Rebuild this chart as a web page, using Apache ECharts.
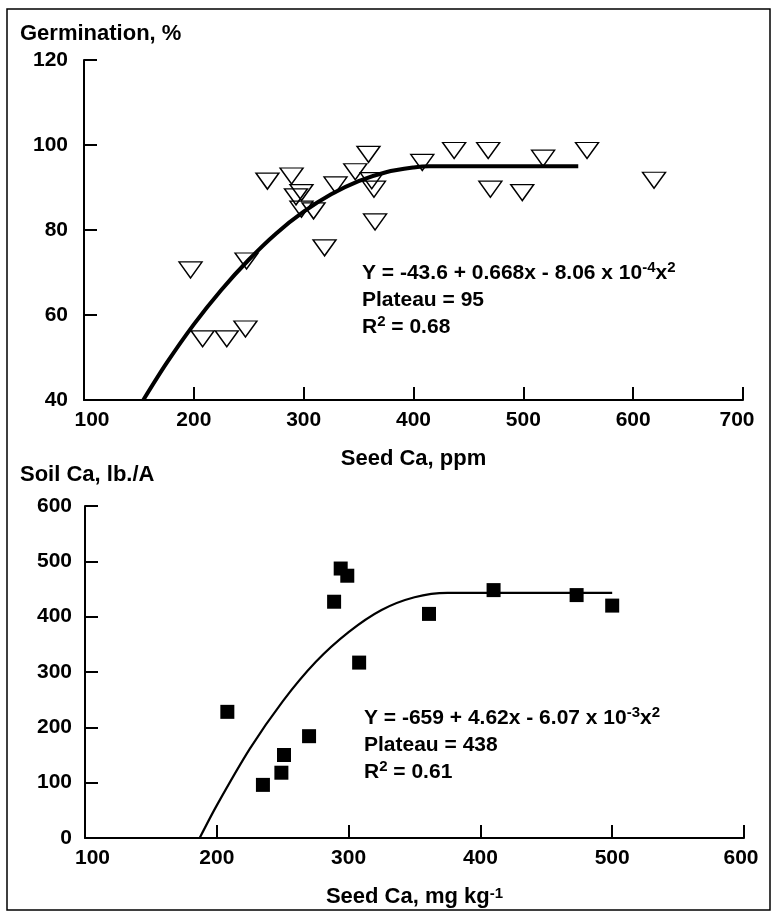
<!DOCTYPE html>
<html>
<head>
<meta charset="utf-8">
<script src="https://cdn.jsdelivr.net/npm/echarts@6/dist/echarts.min.js"></script>
<style>
html,body{margin:0;padding:0;background:#fff;}
#chart{width:772px;height:912px;}
</style>
</head>
<body>
<div id="chart"></div>
<script>
// ---- Top panel: Germination vs Seed Ca (ppm) ----
const germSeedCa = [197, 208, 230, 247, 248, 267, 289, 293, 298, 298, 309, 319, 329, 347, 359, 362, 364, 365, 408, 437, 468, 470, 499, 518, 558, 619];
const germPct    = [70.6, 54.4, 54.4, 56.7, 72.7, 91.5, 92.7, 87.8, 88.8, 84.9, 84.5, 75.8, 90.6, 93.7, 97.8, 91.6, 89.6, 81.9, 95.9, 98.7, 98.7, 89.6, 88.8, 96.9, 98.7, 91.7];
// fitted curve (quadratic-plateau)
const germFitX = [154, 175, 200, 225, 250, 275, 300, 325, 350, 375, 400, 414, 550];
const germFitY = [40, 48.6, 57.8, 65.9, 73.0, 79.2, 84.3, 88.4, 91.5, 93.6, 94.7, 95, 95];
const topXTicks = [100, 700, 100]; // min, max, interval
const topYTicks = [40, 120, 20];

// ---- Bottom panel: Soil Ca vs Seed Ca (mg/kg) ----
const soilSeedCa = [208, 235, 249, 251, 270, 289, 294, 299, 308, 361, 410, 473, 500];
const soilCa     = [228, 96, 118, 150, 184, 427, 487, 474, 317, 405, 448, 439, 420];
const soilFitX = [187, 200, 225, 250, 275, 300, 325, 350, 375, 500];
const soilFitY = [0, 59, 161, 247, 318, 372, 412, 435, 443, 443];
const botXTicks = [100, 600, 100];
const botYTicks = [0, 600, 100];

const FONT = 'Liberation Sans';
const pairs = (xs, ys) => xs.map((x, i) => [x, ys[i]]);

function xLabel(minV, maxV, shiftMin, shiftMax) {
  return {
    color: '#000', fontFamily: FONT, fontWeight: 'bold', fontSize: 21, margin: 10,
    formatter: function (v) {
      if (v === minV) return '{f|' + v + '}';
      if (v === maxV) return '{l|' + v + '}';
      return '' + v;
    },
    rich: {
      f: { fontFamily: FONT, fontWeight: 'bold', fontSize: 21, color: '#000', padding: [0, 0, 0, shiftMin] },
      l: { fontFamily: FONT, fontWeight: 'bold', fontSize: 21, color: '#000', padding: [0, shiftMax, 0, 0] }
    }
  };
}
const axisLineStyle = { show: true, lineStyle: { color: '#000', width: 2 } };
const tickStyle = { show: true, inside: true, length: 13, lineStyle: { color: '#000', width: 2 } };

const chart = echarts.init(document.getElementById('chart'), null, { renderer: 'canvas' });

const supRich = {
  n: { fontFamily: FONT, fontWeight: 'bold', fontSize: 21, lineHeight: 27, color: '#000' },
  s: { fontFamily: FONT, fontWeight: 'bold', fontSize: 15, lineHeight: 18, verticalAlign: 'top', color: '#000' }
};

chart.setOption({
  animation: false,
  backgroundColor: '#fff',
  grid: [
    { left: 84, top: 60, width: 659, height: 340 },
    { left: 85, top: 506, width: 659, height: 332 }
  ],
  xAxis: [
    {
      gridIndex: 0, type: 'value', min: topXTicks[0], max: topXTicks[1], interval: topXTicks[2],
      name: 'Seed Ca, ppm', nameLocation: 'middle', nameGap: 48,
      nameTextStyle: { color: '#000', fontFamily: FONT, fontWeight: 'bold', fontSize: 22 },
      axisLine: axisLineStyle, axisTick: tickStyle, splitLine: { show: false },
      axisLabel: xLabel(100, 700, 16, 12)
    },
    {
      gridIndex: 1, type: 'value', min: botXTicks[0], max: botXTicks[1], interval: botXTicks[2],
      name: 'Seed Ca, mg kg{s|-1}', nameLocation: 'middle', nameGap: 48,
      nameTextStyle: {
        color: '#000', fontFamily: FONT, fontWeight: 'bold', fontSize: 22,
        rich: { s: { fontFamily: FONT, fontWeight: 'bold', fontSize: 15, verticalAlign: 'top', color: '#000', lineHeight: 16 } }
      },
      axisLine: axisLineStyle, axisTick: tickStyle, splitLine: { show: false },
      axisLabel: xLabel(100, 600, 15, 6)
    }
  ],
  yAxis: [
    {
      gridIndex: 0, type: 'value', min: topYTicks[0], max: topYTicks[1], interval: topYTicks[2],
      axisLine: axisLineStyle, axisTick: tickStyle, splitLine: { show: false },
      axisLabel: { color: '#000', fontFamily: FONT, fontWeight: 'bold', fontSize: 21, margin: 16 }
    },
    {
      gridIndex: 1, type: 'value', min: botYTicks[0], max: botYTicks[1], interval: botYTicks[2],
      axisLine: axisLineStyle, axisTick: tickStyle, splitLine: { show: false },
      axisLabel: { color: '#000', fontFamily: FONT, fontWeight: 'bold', fontSize: 21, margin: 13 }
    }
  ],
  series: [
    {
      type: 'line', xAxisIndex: 0, yAxisIndex: 0, data: pairs(germFitX, germFitY),
      showSymbol: false, smooth: 0.3,
      lineStyle: { color: '#000', width: 4 }, silent: true, z: 2
    },
    {
      type: 'scatter', xAxisIndex: 0, yAxisIndex: 0, data: pairs(germSeedCa, germPct),
      symbol: 'triangle', symbolRotate: 180, symbolSize: [23, 16],
      itemStyle: { color: 'rgba(255,255,255,0)', borderColor: '#000', borderWidth: 1.4, opacity: 1 }, z: 3
    },
    {
      type: 'line', xAxisIndex: 1, yAxisIndex: 1, data: pairs(soilFitX, soilFitY),
      showSymbol: false, smooth: 0.3,
      lineStyle: { color: '#000', width: 2.2 }, silent: true, z: 2
    },
    {
      type: 'scatter', xAxisIndex: 1, yAxisIndex: 1, data: pairs(soilSeedCa, soilCa),
      symbol: 'rect', symbolSize: 14,
      itemStyle: { color: '#000', opacity: 1 }, z: 3
    }
  ],
  graphic: [
    { type: 'rect', shape: { x: 7, y: 9, width: 763, height: 901 }, style: { fill: 'none', stroke: '#000', lineWidth: 1.5 }, silent: true },
    { type: 'text', left: 20, top: 23, style: { text: 'Germination, %', fill: '#000', font: 'bold 22px "Liberation Sans"' } },
    { type: 'text', left: 20, top: 464, style: { text: 'Soil Ca, lb./A', fill: '#000', font: 'bold 22px "Liberation Sans"' } },
    {
      type: 'text', left: 362, top: 260,
      style: {
        text: '{n|Y = -43.6 + 0.668x - 8.06 x 10}{s|-4}{n|x}{s|2}\n{n|Plateau = 95}\n{n|R}{s|2}{n| = 0.68}',
        rich: supRich
      }
    },
    {
      type: 'text', left: 364, top: 705,
      style: {
        text: '{n|Y = -659 + 4.62x - 6.07 x 10}{s|-3}{n|x}{s|2}\n{n|Plateau = 438}\n{n|R}{s|2}{n| = 0.61}',
        rich: supRich
      }
    }
  ]
});
</script>
</body>
</html>
